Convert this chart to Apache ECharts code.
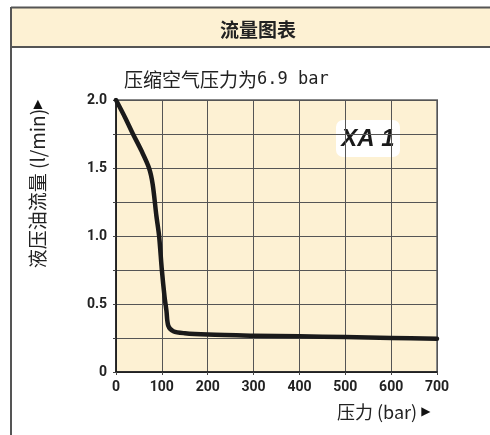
<!DOCTYPE html>
<html><head><meta charset="utf-8">
<script src="https://cdn.jsdelivr.net/npm/echarts@6/dist/echarts.min.js"></script>
<style>html,body{margin:0;padding:0;background:#fff}#c{width:490px;height:435px}</style>
</head><body><div id="c"></div>
<script>
const title = '流量图表';
const subtitleCjk = '压缩空气压力为';
const subtitleValue = '6.9 bar';
const xName = '压力 (bar) ';
const yName = '液压油流量 (l/min)';
const arrow = '▶';
const seriesLabel = 'XA 1';
const pressure = [0, 20, 37, 55, 72, 80, 88, 94, 100, 106, 110, 114, 125, 150, 200, 300, 400, 500, 600, 700];
const flow = [2.0, 1.87, 1.75, 1.63, 1.5, 1.38, 1.15, 1.0, 0.75, 0.55, 0.45, 0.34, 0.3, 0.285, 0.275, 0.267, 0.262, 0.257, 0.25, 0.245];

const chart = echarts.init(document.getElementById('c'));
const labelFont = {fontFamily: 'Roboto', fontWeight: 'bold', fontSize: 14, color: '#222'};
const nameRich = {
  a: {fontFamily: 'Noto Sans CJK SC', fontSize: 18, fill: '#222', color: '#222'},
  s: {fontFamily: 'DejaVu Sans', fontSize: 12, fill: '#111', color: '#111'}
};
chart.setOption({
  animation: false,
  backgroundColor: '#fff',
  graphic: [
    {type: 'rect', shape: {x: 11, y: 7, width: 490, height: 40}, style: {fill: '#fdf1d3', stroke: null}, z: 0},
    {type: 'line', shape: {x1: 11, y1: 7.5, x2: 490, y2: 7.5}, style: {stroke: '#555', lineWidth: 2}},
    {type: 'line', shape: {x1: 11, y1: 47, x2: 490, y2: 47}, style: {stroke: '#555', lineWidth: 2}},
    {type: 'line', shape: {x1: 11, y1: 7, x2: 11, y2: 435}, style: {stroke: '#555', lineWidth: 2}},
    {type: 'text', x: 258, y: 30, style: {text: title, font: 'bold 19px "Noto Sans CJK SC"', fill: '#222', textAlign: 'center', textVerticalAlign: 'middle'}},
    {type: 'text', x: 124, y: 80, style: {
      text: '{a|' + subtitleCjk + '}{b|' + subtitleValue + '}',
      textAlign: 'left', textVerticalAlign: 'middle',
      rich: {
        a: {fontFamily: 'Noto Sans CJK SC', fontSize: 19, fill: '#222', color: '#222'},
        b: {fontFamily: 'DejaVu Sans Mono', fontSize: 17, fill: '#222', color: '#222'}
      }
    }},
    {type: 'text', x: 337, y: 412, style: {text: '{a|' + xName + '}{s|' + arrow + '}', rich: nameRich, textAlign: 'left', textVerticalAlign: 'middle'}},
    {type: 'text', x: 38, y: 184, rotation: Math.PI / 2, style: {text: '{a|' + yName + '}{s|' + arrow + '}', rich: {a: Object.assign({}, nameRich.a, {fontSize: 19}), s: nameRich.s}, textAlign: 'center', textVerticalAlign: 'middle'}, z: 10},
    {type: 'group', x: 336, y: 120, z: 20, children: [
      {type: 'rect', shape: {x: 0, y: 0, width: 64, height: 37, r: 7}, style: {fill: '#fff'}},
      {type: 'text', x: 32, y: 19, style: {text: seriesLabel, font: 'italic bold 24px "Liberation Sans"', fill: '#1a1a1a', textAlign: 'center', textVerticalAlign: 'middle'}}
    ]}
  ],
  grid: {left: 116, top: 100, width: 321, height: 272, show: true, backgroundColor: '#fdf1d3', borderColor: '#888', borderWidth: 2},
  xAxis: {
    type: 'value', min: 0, max: 700, interval: 100,
    axisLine: {show: true, lineStyle: {color: '#111', width: 1.5}},
    axisTick: {show: true, length: 3, lineStyle: {color: '#444'}},
    axisLabel: Object.assign({margin: 8}, labelFont),
    splitLine: {show: true, lineStyle: {color: '#555', width: 1}}
  },
  yAxis: {
    type: 'value', min: 0, max: 2, interval: 0.25,
    axisLine: {show: true, lineStyle: {color: '#111', width: 1.5}},
    axisTick: {show: true, length: 3, lineStyle: {color: '#444'}},
    axisLabel: Object.assign({margin: 9, formatter: v => (Math.abs(v * 2 - Math.round(v * 2)) < 1e-6 ? (v === 0 ? '0' : v.toFixed(1)) : '')}, labelFont),
    splitLine: {show: true, lineStyle: {color: '#555', width: 1}}
  },
  series: [{
    type: 'line', data: pressure.map((p, i) => [p, flow[i]]), smooth: 0.3, showSymbol: false,
    lineStyle: {color: '#1a1a1a', width: 4.5, cap: 'round', join: 'round'}, z: 5
  }]
});
</script></body></html>
